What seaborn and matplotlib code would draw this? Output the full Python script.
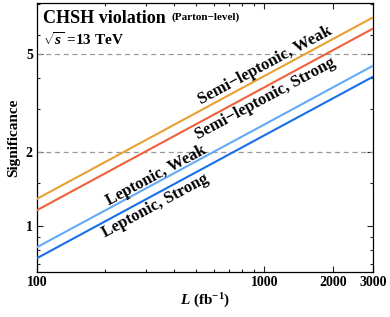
import numpy as np
import pandas as pd
import seaborn as sns
import matplotlib

matplotlib.use("agg")

import matplotlib.pyplot as plt
from matplotlib.ticker import FixedLocator, NullFormatter

# integrated luminosity (fb^-1) and significance
lumi = [100, 1000, 3000]
semi_weak = [1.29, 4.08, 7.06]
semi_strong = [1.16, 3.67, 6.36]
lep_weak = [0.82, 2.59, 4.49]
lep_strong = [0.74, 2.34, 4.05]

channels = ["Semi−leptonic, Weak", "Semi−leptonic, Strong",
            "Leptonic, Weak", "Leptonic, Strong"]
colors = ["#E9A030", "#F0603A", "#62AAF8", "#176FEA"]

y_major = [1, 2, 5]
y_minor = [0.7, 0.8, 0.9, 1.5, 3, 4, 6, 8]
x_major = [100, 1000, 2000, 3000]
x_minor = [200, 300, 400, 500, 600, 700, 800, 900]
ref_levels = [2, 5]

df = pd.DataFrame({
    "L": lumi * 4,
    "S": semi_weak + semi_strong + lep_weak + lep_strong,
    "channel": [c for c in channels for _ in lumi],
})

sns.set_theme(style="ticks")
plt.rcParams["font.family"] = ["Liberation Serif", "DejaVu Serif"]
plt.rcParams["font.weight"] = "bold"
plt.rcParams["text.color"] = "black"
plt.rcParams["axes.labelcolor"] = "black"
plt.rcParams["xtick.color"] = "black"
plt.rcParams["ytick.color"] = "black"
plt.rcParams["mathtext.fontset"] = "custom"
plt.rcParams["mathtext.rm"] = "Liberation Serif:bold"
plt.rcParams["mathtext.it"] = "Liberation Serif:italic:bold"
plt.rcParams["mathtext.bf"] = "Liberation Serif:bold"

fig = plt.figure(figsize=(3.9, 3.17), dpi=100)
ax = fig.add_axes([37 / 390, 45 / 317, 336 / 390, 269 / 317])

for lvl in ref_levels:
    ax.axhline(lvl, color="#999999", lw=0.9, ls=(0, (4, 3)), zorder=1)

sns.lineplot(data=df, x="L", y="S", hue="channel", hue_order=channels,
             palette=colors, lw=1.5, legend=False, ax=ax, zorder=3)

ax.set_xscale("log")
ax.set_yscale("log")
ax.set_xlim(100, 3000)
ax.set_ylim(0.65, 8.08)

ax.xaxis.set_major_locator(FixedLocator(x_major))
ax.xaxis.set_minor_locator(FixedLocator(x_minor))
ax.set_xticklabels([str(v) for v in x_major])
ax.xaxis.set_minor_formatter(NullFormatter())
ax.yaxis.set_major_locator(FixedLocator(y_major))
ax.yaxis.set_minor_locator(FixedLocator(y_minor))
ax.set_yticklabels([str(v) for v in y_major])
ax.yaxis.set_minor_formatter(NullFormatter())

ax.tick_params(which="both", direction="in", top=True, right=True,
               labelsize=10, pad=3, width=0.8, color="#222222",
               labelcolor="black")
ax.tick_params(which="major", length=4)
ax.tick_params(which="minor", length=2.5)
for lab in ax.get_xticklabels() + ax.get_yticklabels():
    lab.set_fontweight("bold")
for sp in ax.spines.values():
    sp.set_linewidth(0.9)
    sp.set_color("black")

ax.set_xlabel(r"$L$ (fb$^{-1}$)", fontsize=11, fontweight="bold", labelpad=2)
ax.set_ylabel("Significance", fontsize=11, fontweight="bold", labelpad=4)

# titles
ax.text(0.018, 0.975, "CHSH violation", transform=ax.transAxes,
        fontsize=13, fontweight="bold", ha="left", va="top")
ax.text(0.40, 0.965, "(Parton−level)", transform=ax.transAxes,
        fontsize=8, fontweight="bold", ha="left", va="top")
ax.text(0.018, 0.895, r"$\sqrt{s}$ =13 TeV", transform=ax.transAxes,
        fontsize=11, fontweight="bold", ha="left", va="top")

# line labels
label_pos = [(1005, 4.48), (1005, 3.29), (333, 1.61), (333, 1.206)]
for name, (lx, ly) in zip(channels, label_pos):
    ax.text(lx, ly, name, rotation=28.3, rotation_mode="anchor",
            ha="center", va="center", fontsize=12, fontweight="bold")

fig.savefig("out.png", dpi=100)
